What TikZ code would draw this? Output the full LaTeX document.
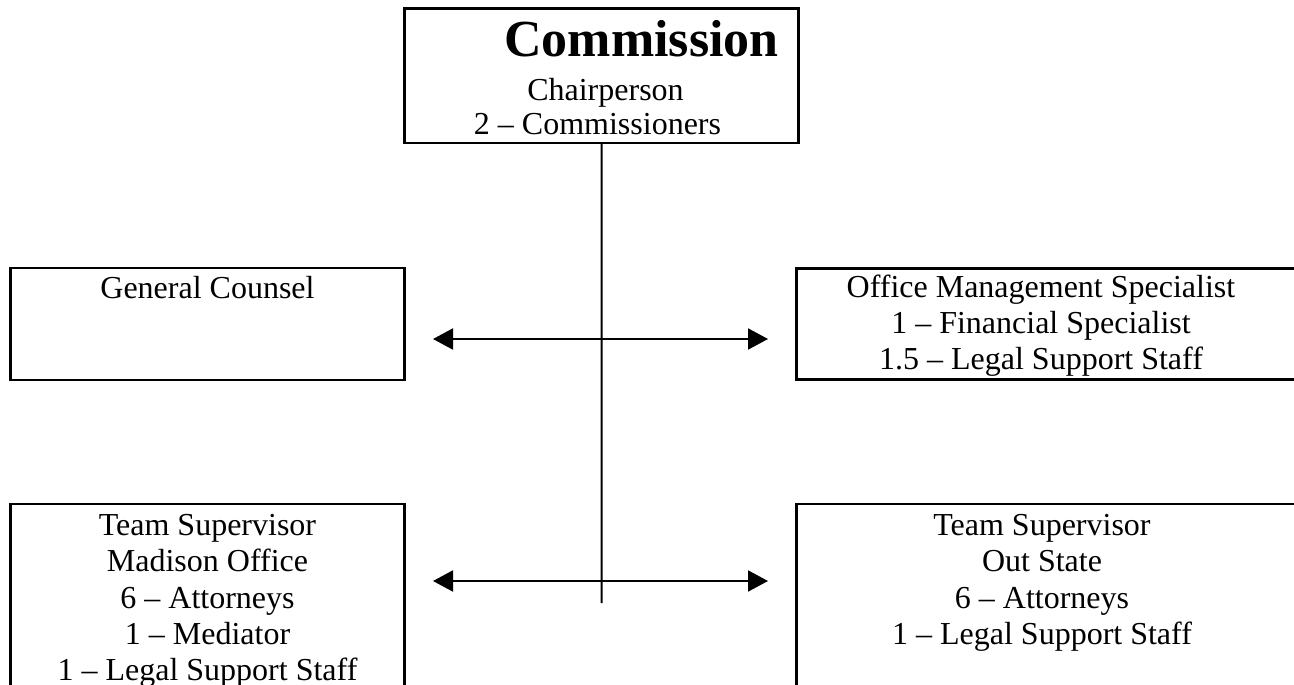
\documentclass[tikz,border=0pt]{standalone}
\usepackage{fontspec}
\setmainfont{Liberation Serif}
\usetikzlibrary{arrows.meta}
\begin{document}
\begin{tikzpicture}[x=1pt,y=-1pt,
  box/.style={draw,line width=2.8pt,rectangle,inner sep=0pt,outer sep=0pt,anchor=north west},
  txt/.style={anchor=base,inner sep=0pt,font=\fontsize{32}{36}\selectfont},
  ttl/.style={anchor=base,inner sep=0pt,font=\bfseries\fontsize{52}{56}\selectfont},
  conn/.style={line width=2pt},
  arr/.style={line width=2pt,{Triangle[length=20pt,width=21pt]}-{Triangle[length=20pt,width=21pt]}}]
\useasboundingbox (0,0) rectangle (1294,685);
\clip (0,0) rectangle (1294,685);
% boxes
\node[box,minimum width=394.2pt,minimum height=134.5pt] (comm) at (404.5,8.5) {};
\node[box,minimum width=393.6pt,minimum height=112pt] (gc) at (10.7,268) {};
\node[box,minimum width=520pt,minimum height=111pt] (oms) at (796.7,268.3) {};
\node[box,minimum width=393.6pt,minimum height=220pt] (tsm) at (10.7,504) {};
\node[box,minimum width=520pt,minimum height=220pt] (tso) at (796.7,504) {};
% texts
\node[ttl] (c1) at (641.5,57) {Commission};
\node[txt] (c2) at (605.5,100) {Chairperson};
\node[txt] (c3) at (597.5,135) {2 – Commissioners};
\node[txt] (g1) at (207.5,298) {General Counsel};
\node[txt] (o1) at (1041,297) {Office Management Specialist};
\node[txt] (o2) at (1041,333) {1 – Financial Specialist};
\node[txt] (o3) at (1041,369) {1.5 – Legal Support Staff};
\node[txt] (m1) at (207.5,535) {Team Supervisor};
\node[txt] (m2) at (207.5,571.5) {Madison Office};
\node[txt] (m3) at (207.5,608) {6 – Attorneys};
\node[txt] (m4) at (207.5,644.5) {1 – Mediator};
\node[txt] (m5) at (207.5,680.5) {1 – Legal Support Staff};
\node[txt] (s1) at (1042,535) {Team Supervisor};
\node[txt] (s2) at (1042,571.5) {Out State};
\node[txt] (s3) at (1042,608) {6 – Attorneys};
\node[txt] (s4) at (1042,644.5) {1 – Legal Support Staff};
% connectors
\coordinate (vend) at (601.6,603);
\draw[conn] (comm.south) -- (vend);
\coordinate (a1l) at (433,339);
\coordinate (a1r) at (768,339);
\draw[arr] (a1l) -- (a1r);
\coordinate (a2l) at (433,581);
\coordinate (a2r) at (768,581);
\draw[arr] (a2l) -- (a2r);
\end{tikzpicture}
\end{document}
